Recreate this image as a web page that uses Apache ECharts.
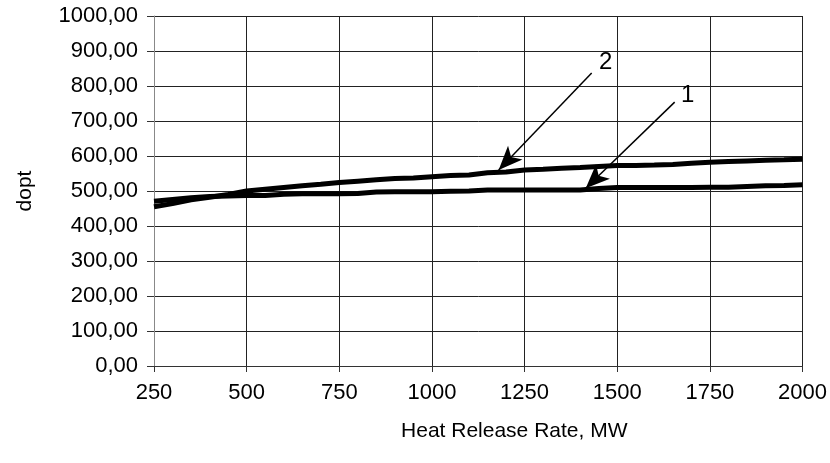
<!DOCTYPE html>
<html>
<head>
<meta charset="utf-8">
<script src="https://cdn.jsdelivr.net/npm/echarts@6/dist/echarts.min.js"></script>
<style>
  html, body { margin: 0; padding: 0; background: #fff; }
  #chart { width: 830px; height: 463px; }
</style>
</head>
<body>
<div id="chart"></div>
<script>
// Heat release rate, MW
const hrr = [250, 300, 350, 400, 450, 500, 550, 600, 650, 700, 750, 800, 850, 900, 950, 1000,
    1050, 1100, 1150, 1200, 1250, 1300, 1350, 1400, 1450, 1500, 1550, 1600, 1650, 1700,
    1750, 1800, 1850, 1900, 1950, 2000];

// curve 1 (lower one at the right)
const dopt1 = [471, 476, 481, 484, 486, 487, 487, 491, 492, 492, 492, 493, 497, 498, 498, 498,
    499, 500, 503, 503, 503, 503, 503, 503, 507, 510, 510, 510, 510, 510,
    511, 511, 513, 515, 516, 518];

// curve 2 (upper one at the right)
const dopt2 = [455, 464, 475, 482, 490, 500, 505, 510, 515, 519, 524, 528, 532, 536, 537, 541,
    544, 546, 552, 554, 560, 562, 565, 567, 570, 573, 573, 574, 576, 579,
    582, 584, 586, 588, 589, 591];

const xTicks = [250, 500, 750, 1000, 1250, 1500, 1750, 2000];
const yTicks = [0, 100, 200, 300, 400, 500, 600, 700, 800, 900, 1000];

// callout arrows: label, text position, arrow start, arrow tip
const calloutNames = ['2', '1'];
const calloutText = [[1469, 868], [1690, 774]];
const arrowFrom = [[1431, 837], [1655, 754]];
const arrowTo = [[1180, 560], [1415, 508]];

const font = 'Liberation Sans, Arial, sans-serif';

const chart = echarts.init(document.getElementById('chart'));

const pairs = (ys) => hrr.map((x, i) => [x, ys[i]]);

const option = {
    animation: false,
    backgroundColor: '#fff',
    grid: { left: 154, right: 27, top: 16, bottom: 97, containLabel: false },
    xAxis: {
        type: 'value',
        min: xTicks[0],
        max: xTicks[xTicks.length - 1],
        interval: 250,
        name: 'Heat Release Rate, MW',
        nameLocation: 'middle',
        nameGap: 55,
        nameTextStyle: { fontFamily: font, fontSize: 21, color: '#000', padding: [0, 0, 0, 72] },
        axisLine: { lineStyle: { color: '#333', width: 1 } },
        axisTick: { show: true, length: 6, lineStyle: { color: '#333' } },
        axisLabel: {
            fontFamily: font, fontSize: 22, color: '#000', margin: 16,
            formatter: (v) => String(v)
        },
        splitLine: { show: true, lineStyle: { color: '#222', width: 1 } }
    },
    yAxis: {
        type: 'value',
        min: yTicks[0],
        max: yTicks[yTicks.length - 1],
        interval: 100,
        name: 'dopt',
        nameLocation: 'middle',
        nameGap: 118,
        nameTextStyle: { fontFamily: font, fontSize: 21, color: '#000' },
        axisLine: { show: true, lineStyle: { color: '#888', width: 1 } },
        axisTick: { show: true, length: 7, lineStyle: { color: '#333' } },
        axisLabel: {
            fontFamily: font, fontSize: 22, color: '#000', margin: 16,
            formatter: (v) => v.toFixed(2).replace('.', ',')
        },
        splitLine: { show: true, lineStyle: { color: '#222', width: 1 } }
    },
    series: [
        {
            name: '1',
            type: 'line',
            data: pairs(dopt1),
            showSymbol: false,
            symbol: 'none',
            lineStyle: { color: '#000', width: 5 },
            z: 3,
            markLine: {
                silent: true,
                symbol: ['none', 'arrow'],
                symbolSize: [15, 24],
                lineStyle: { color: '#000', width: 1.5, type: 'solid', opacity: 1 },
                itemStyle: { color: '#000' },
                label: { show: false },
                data: arrowFrom.map((p, i) => [{ coord: p }, { coord: arrowTo[i] }])
            }
        },
        {
            name: '2',
            type: 'line',
            data: pairs(dopt2),
            showSymbol: false,
            symbol: 'none',
            lineStyle: { color: '#000', width: 5 },
            z: 3
        },
        {
            name: 'labels',
            type: 'scatter',
            symbolSize: 1,
            itemStyle: { color: 'rgba(0,0,0,0)' },
            data: calloutText.map((p, i) => ({ value: p, name: calloutNames[i] })),
            label: {
                show: true,
                position: 'inside',
                formatter: (p) => p.name,
                fontFamily: font,
                fontSize: 24,
                color: '#000',
                opacity: 1
            },
            z: 4
        }
    ]
};

chart.setOption(option);
</script>
</body>
</html>
